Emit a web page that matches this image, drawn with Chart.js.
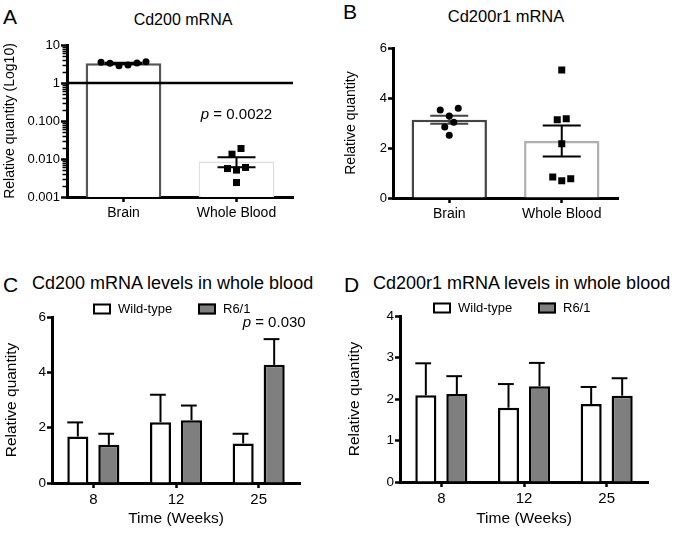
<!DOCTYPE html>
<html><head><meta charset="utf-8">
<script src="https://cdn.jsdelivr.net/npm/chart.js@4/dist/chart.umd.min.js"></script>
<style>
html,body{margin:0;padding:0;background:#fff;}
body{width:674px;height:538px;position:relative;overflow:hidden;font-family:"Liberation Sans",Arial,Helvetica,sans-serif;color:#000;}
canvas{position:absolute;}
.t{position:absolute;white-space:nowrap;line-height:1;color:#000;}
.c{transform:translate(-50%,-50%);}
.l{transform:translateY(-50%);}
</style></head><body>
<div class="t l" style="left:3px;top:16px;font-size:21px">A</div>
<div class="t l" style="left:343px;top:11px;font-size:21px">B</div>
<div class="t l" style="left:3px;top:284px;font-size:21px">C</div>
<div class="t l" style="left:344px;top:284px;font-size:21px">D</div>
<div class="t c" style="left:183px;top:20px;font-size:16px">Cd200 mRNA</div>
<div class="t c" style="left:506px;top:16px;font-size:16.5px">Cd200r1 mRNA</div>
<div class="t l" style="left:32px;top:283px;font-size:18px">Cd200 mRNA levels in whole blood</div>
<div class="t l" style="left:373px;top:283px;font-size:18px">Cd200r1 mRNA levels in whole blood</div>

<canvas id="cA" width="340" height="230" style="left:0;top:0;width:340px;height:230px"></canvas>
<canvas id="cB" width="334" height="230" style="left:340px;top:0;width:334px;height:230px"></canvas>
<canvas id="cC" width="340" height="278" style="left:0;top:260px;width:340px;height:278px"></canvas>
<canvas id="cD" width="334" height="278" style="left:340px;top:260px;width:334px;height:278px"></canvas>

<script>
// ---------------- DATA ----------------
const tissues = ['Brain', 'Whole Blood'];

// Panel A: Cd200 mRNA (log10 scale)
const cd200BrainPoints = [3.52, 3.31, 2.86, 2.98, 3.37, 3.65];
const cd200BloodPoints = [0.0134, 0.0189, 0.0056, 0.0051, 0.0060, 0.0024];
const cd200Mean = [3.3, 0.0086];
const cd200Sem = [0.12, 0.0025];
const cd200Reference = 1;
const cd200TickValues = [0.001, 0.01, 0.1, 1, 10];
const cd200TickLabels = ['0.001', '0.010', '0.100', '1', '10'];
const cd200PValue = '0.0022';

// Panel B: Cd200r1 mRNA
const cd200r1BrainPoints = [3.52, 3.28, 3.59, 2.84, 3.03, 2.51];
const cd200r1BloodPoints = [5.12, 3.13, 3.17, 2.17, 0.84, 0.69, 0.77];
const cd200r1Mean = [3.13, 2.28];
const cd200r1Sem = [0.16, 0.62];

// Panels C & D: time course in whole blood
const weeks = ['8', '12', '25'];
const groups = ['Wild-type', 'R6/1'];
const cd200WT = [1.68, 2.20, 1.43];
const cd200WTSem = [0.51, 0.99, 0.35];
const cd200R6 = [1.38, 2.27, 4.27];
const cd200R6Sem = [0.40, 0.53, 0.93];
const cd200TimePValue = '0.030';

const cd200r1WT = [2.09, 1.79, 1.88];
const cd200r1WTSem = [0.77, 0.57, 0.41];
const cd200r1R6 = [2.12, 2.31, 2.08];
const cd200r1R6Sem = [0.43, 0.56, 0.42];

// ---------------- STYLE / HELPERS ----------------
const FONT = '"Liberation Sans", Arial, Helvetica, sans-serif';
Chart.defaults.font.family = FONT;
Chart.defaults.color = '#000';
Chart.defaults.animation = false;

const fixW = w => s => { s.width = w; };
const fixH = h => s => { s.height = h; };
const axisBorder = { display: true, color: '#000', width: 3 };

function xScale(h, tickSize, title) {
  return {
    type: 'category', offset: true,
    border: axisBorder,
    grid: { display: true, offset: false, drawOnChartArea: false, drawTicks: true, tickLength: 5, tickWidth: 2.5, tickColor: '#000' },
    ticks: { font: { size: tickSize }, padding: 3, maxRotation: 0, autoSkip: false, color: '#000' },
    title: title ? { display: true, text: title.text, font: { size: title.size }, padding: { top: 0, bottom: title.pad }, color: '#000' } : { display: false },
    afterFit: fixH(h)
  };
}
function yTitle(text, size, pad) {
  return { display: true, text, font: { size }, padding: { top: pad, bottom: 0 }, color: '#000' };
}

const extras = {
  id: 'extras',
  afterDatasetsDraw(chart, args, o) {
    const ctx = chart.ctx, xs = chart.scales.x, ys = chart.scales.y, ca = chart.chartArea;
    ctx.save();
    // minor log ticks
    if (o.minorTicks) {
      ctx.strokeStyle = '#000'; ctx.lineWidth = 1.5;
      const majors = o.minorTicks;
      for (let k = 0; k < majors.length - 1; k++) {
        for (let m = 2; m <= 9; m++) {
          const py = Math.round(ys.getPixelForValue(majors[k] * m)) + 0.5;
          ctx.beginPath(); ctx.moveTo(ca.left - 1, py); ctx.lineTo(ca.left - 1.5 - o.minorLen, py); ctx.stroke();
        }
      }
    }
    // error bars
    (o.errorBars || []).forEach(eb => {
      const meta = chart.getDatasetMeta(eb.dataset);
      const data = chart.data.datasets[eb.dataset].data;
      meta.data.forEach((el, i) => {
        const { x, width } = el.getProps(['x', 'width'], true);
        const m = data[i], s = eb.sem[i];
        const yTop = ys.getPixelForValue(m + s);
        const yBot = eb.mode === 'both' ? ys.getPixelForValue(m - s) : ys.getPixelForValue(m);
        ctx.strokeStyle = Array.isArray(eb.color) ? eb.color[i] : eb.color;
        ctx.lineWidth = eb.lineWidth;
        ctx.lineCap = 'butt';
        ctx.beginPath(); ctx.moveTo(x, yTop); ctx.lineTo(x, yBot); ctx.stroke();
        if (eb.mode === 'both') {
          ctx.beginPath();
          ctx.moveTo(x - eb.capWidth / 2, yTop); ctx.lineTo(x + eb.capWidth / 2, yTop);
          ctx.moveTo(x - eb.capWidth / 2, yBot); ctx.lineTo(x + eb.capWidth / 2, yBot);
          ctx.stroke();
        } else {
          ctx.beginPath();
          ctx.moveTo(x - width / 2, yTop); ctx.lineTo(x + width / 4, yTop);
          ctx.stroke();
        }
      });
    });
    // reference line
    if (o.refLine !== undefined) {
      const py = ys.getPixelForValue(o.refLine);
      ctx.strokeStyle = '#000'; ctx.lineWidth = 2.5;
      ctx.beginPath(); ctx.moveTo(ca.left, py); ctx.lineTo(ca.right, py); ctx.stroke();
    }
    // individual points (row-based scatter)
    (o.points || []).forEach(p => {
      const cx = xs.getPixelForValue(p.category);
      const pys = p.values.map(v => ys.getPixelForValue(v));
      const order = pys.map((_, i) => i).sort((a, b) => pys[a] - pys[b]);
      const rows = []; let cur = null;
      order.forEach(i => {
        if (cur && pys[i] - cur.start < p.spacing) cur.items.push(i);
        else { cur = { start: pys[i], items: [i] }; rows.push(cur); }
      });
      ctx.fillStyle = '#000';
      rows.forEach(r => {
        r.items.sort((a, b) => a - b);
        r.items.forEach((i, k) => {
          const px = cx + (k - (r.items.length - 1) / 2) * p.spacing;
          if (p.shape === 'square') {
            ctx.fillRect(px - p.size / 2, pys[i] - p.size / 2, p.size, p.size);
          } else {
            ctx.beginPath(); ctx.arc(px, pys[i], p.size / 2, 0, Math.PI * 2); ctx.fill();
          }
        });
      });
    });
    // p value
    if (o.pValue) {
      const pv = o.pValue;
      const el = chart.getDatasetMeta(pv.dataset).data[pv.index];
      const m = chart.data.datasets[pv.dataset].data[pv.index];
      const cy = ys.getPixelForValue(m + pv.sem[pv.index]) - pv.gap;
      ctx.textBaseline = 'middle'; ctx.textAlign = 'left'; ctx.fillStyle = '#000';
      ctx.font = `italic ${pv.size}px ${FONT}`;
      const w1 = ctx.measureText('p').width;
      ctx.font = `${pv.size}px ${FONT}`;
      const rest = ' = ' + pv.text;
      const w2 = ctx.measureText(rest).width;
      const sx = el.x - (w1 + w2) / 2;
      ctx.font = `italic ${pv.size}px ${FONT}`;
      ctx.fillText('p', sx, cy);
      ctx.font = `${pv.size}px ${FONT}`;
      ctx.fillText(rest, sx + w1, cy);
    }
    // legend
    if (o.legend) {
      const lg = o.legend;
      const y = ca.top + lg.dy;
      ctx.textBaseline = 'middle'; ctx.textAlign = 'left';
      ctx.font = `${lg.size}px ${FONT}`;
      chart.data.datasets.forEach((ds, i) => {
        const x = ca.left + lg.dx + i * lg.spacing;
        ctx.fillStyle = ds.backgroundColor;
        ctx.fillRect(x, y - 5.5, 18, 11);
        ctx.strokeStyle = '#000'; ctx.lineWidth = 2;
        ctx.strokeRect(x + 1, y - 4.5, 16, 9);
        ctx.fillStyle = '#000';
        ctx.fillText(ds.label, x + 25, y + 0.5);
      });
    }
    ctx.restore();
  }
};

// ---------------- PANEL A ----------------
new Chart(document.getElementById('cA'), {
  type: 'bar',
  data: {
    labels: tissues,
    datasets: [{
      data: cd200Mean,
      backgroundColor: '#fff',
      borderColor: ['#555555', '#dedede'],
      borderWidth: [2.5, 1.5],
      barPercentage: 0.67, categoryPercentage: 1
    }]
  },
  plugins: [extras],
  options: {
    responsive: false, animation: false,
    layout: { padding: { top: 45, right: 47, left: 0, bottom: 0 } },
    plugins: {
      legend: { display: false }, tooltip: { enabled: false },
      extras: {
        minorTicks: cd200TickValues, minorLen: 3,
        refLine: cd200Reference,
        errorBars: [{ dataset: 0, sem: cd200Sem, mode: 'both', capWidth: 38, lineWidth: 2, color: '#000' }],
        points: [
          { category: 0, values: cd200BrainPoints, shape: 'circle', size: 7, spacing: 9 },
          { category: 1, values: cd200BloodPoints, shape: 'square', size: 7, spacing: 9 }
        ],
        pValue: { dataset: 0, index: 1, sem: cd200Sem, text: cd200PValue, gap: 42, size: 15 }
      }
    },
    scales: {
      x: xScale(33, 14),
      y: {
        type: 'logarithmic', min: 0.001, max: 10,
        border: axisBorder,
        grid: { drawOnChartArea: false, tickLength: 6, tickWidth: 2.5, tickColor: '#000' },
        afterBuildTicks: s => { s.ticks = cd200TickValues.map(v => ({ value: v })); },
        ticks: { font: { size: 13 }, padding: 1, callback: v => cd200TickLabels[cd200TickValues.indexOf(v)] },
        title: yTitle('Relative quantity (Log10)', 14, 2),
        afterFit: fixW(67)
      }
    }
  }
});

// ---------------- PANEL B ----------------
new Chart(document.getElementById('cB'), {
  type: 'bar',
  data: {
    labels: tissues,
    datasets: [{
      data: cd200r1Mean,
      backgroundColor: '#fff',
      borderColor: ['#444444', '#b0b0b0'],
      borderWidth: 2.5,
      barPercentage: 0.67, categoryPercentage: 1
    }]
  },
  plugins: [extras],
  options: {
    responsive: false, animation: false,
    layout: { padding: { top: 48, right: 56, left: 0, bottom: 0 } },
    plugins: {
      legend: { display: false }, tooltip: { enabled: false },
      extras: {
        errorBars: [{ dataset: 0, sem: cd200r1Sem, mode: 'both', capWidth: 38, lineWidth: 2, color: ['#444444', '#000'] }],
        points: [
          { category: 0, values: cd200r1BrainPoints, shape: 'circle', size: 7, spacing: 9 },
          { category: 1, values: cd200r1BloodPoints, shape: 'square', size: 7, spacing: 9 }
        ]
      }
    },
    scales: {
      x: xScale(32, 14),
      y: {
        type: 'linear', min: 0, max: 6,
        border: axisBorder,
        grid: { drawOnChartArea: false, tickLength: 5, tickWidth: 2.5, tickColor: '#000' },
        ticks: { stepSize: 2, font: { size: 13 }, padding: 1 },
        title: yTitle('Relative quantity', 14, 3),
        afterFit: fixW(53)
      }
    }
  }
});

// ---------------- PANELS C & D ----------------
function timeChart(id, wt, wtSem, r6, r6Sem, ymax, step, leftW, pad, xH, legendDx, pv, yTitlePad) {
  const extrasOpts = {
    errorBars: [
      { dataset: 0, sem: wtSem, mode: 'up', lineWidth: 2, color: '#000' },
      { dataset: 1, sem: r6Sem, mode: 'up', lineWidth: 2, color: '#000' }
    ],
    legend: { dx: legendDx, dy: -8, spacing: 105, size: 13 }
  };
  if (pv) extrasOpts.pValue = { dataset: 1, index: 2, sem: r6Sem, text: pv, gap: 16, size: 15 };
  return new Chart(document.getElementById(id), {
    type: 'bar',
    data: {
      labels: weeks,
      datasets: [
        { label: groups[0], data: wt, backgroundColor: '#ffffff', borderColor: '#000', borderWidth: 2.5, barPercentage: 0.68, categoryPercentage: 0.75 },
        { label: groups[1], data: r6, backgroundColor: '#7f7f7f', borderColor: '#000', borderWidth: 2.5, barPercentage: 0.68, categoryPercentage: 0.75 }
      ]
    },
    plugins: [extras],
    options: {
      responsive: false, animation: false,
      layout: { padding: pad },
      plugins: { legend: { display: false }, tooltip: { enabled: false }, extras: extrasOpts },
      scales: {
        x: xScale(xH, 15, { text: 'Time (Weeks)', size: 15.5, pad: 10 }),
        y: {
          type: 'linear', min: 0, max: ymax,
          border: axisBorder,
          grid: { drawOnChartArea: false, tickLength: 5, tickWidth: 2.5, tickColor: '#000' },
          ticks: { stepSize: step, font: { size: 13.5 }, padding: 1 },
          title: yTitle('Relative quantity', 15.5, yTitlePad),
          afterFit: fixW(leftW)
        }
      }
    }
  });
}
timeChart('cC', cd200WT, cd200WTSem, cd200R6, cd200R6Sem, 6, 2, 52, { top: 57, right: 40, left: 0, bottom: 0 }, 55, 41, cd200TimePValue, 2);
timeChart('cD', cd200r1WT, cd200r1WTSem, cd200r1R6, cd200r1R6Sem, 4, 1, 60, { top: 56, right: 26, left: 0, bottom: 0 }, 56, 33, null, 5);
</script>
</body></html>
